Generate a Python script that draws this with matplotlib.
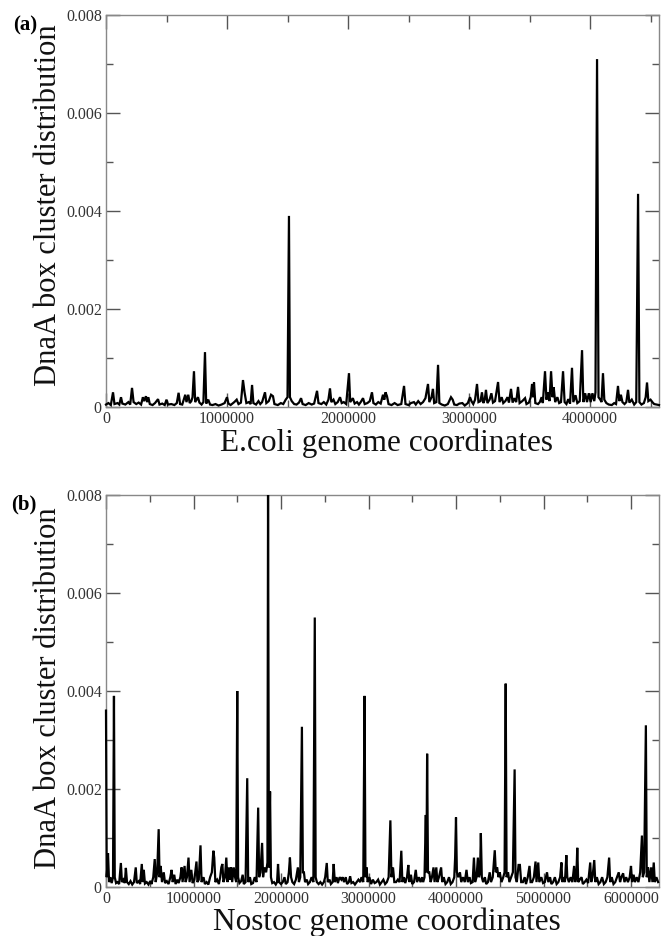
import matplotlib
matplotlib.use("Agg")
import matplotlib.pyplot as plt
from matplotlib.ticker import MultipleLocator
import numpy as np

plt.rcParams['font.family'] = ['Liberation Serif', 'DejaVu Serif']

# ---------------- data (positions in kb, values in units of 1e-4) ----------------
ecoli_kb = [
    0, 20, 40, 58, 70, 95, 110, 124, 135, 160,
    185, 200, 215, 228, 250, 270, 290, 305, 315, 330,
    340, 350, 362, 385, 405, 430, 442, 465, 485, 500,
    512, 540, 565, 585, 600, 612, 630, 655, 665, 680,
    692, 705, 715, 727, 737, 760, 772, 790, 805, 818,
    828, 845, 860, 880, 905, 930, 955, 980, 1000, 1012,
    1030, 1060, 1080, 1095, 1115, 1132, 1145, 1160, 1180, 1195,
    1207, 1218, 1240, 1260, 1275, 1290, 1314, 1325, 1345, 1364,
    1380, 1392, 1420, 1445, 1465, 1485, 1500, 1512, 1520, 1535,
    1555, 1575, 1595, 1612, 1625, 1650, 1675, 1700, 1720, 1744,
    1756, 1780, 1800, 1820, 1838, 1851, 1862, 1880, 1895, 1915,
    1934, 1948, 1965, 1985, 2008, 2018, 2040, 2055, 2075, 2090,
    2105, 2124, 2138, 2160, 2180, 2198, 2210, 2230, 2250, 2270,
    2289, 2300, 2310, 2322, 2335, 2360, 2385, 2410, 2440, 2463,
    2475, 2500, 2520, 2545, 2560, 2580, 2600, 2620, 2640, 2661,
    2672, 2690, 2702, 2712, 2730, 2744, 2755, 2775, 2800, 2825,
    2851, 2865, 2878, 2900, 2920, 2945, 2965, 2990, 3008, 3020,
    3035, 3050, 3066, 3078, 3095, 3107, 3118, 3130, 3140, 3152,
    3170, 3185, 3198, 3215, 3240, 3252, 3270, 3283, 3300, 3318,
    3330, 3347, 3360, 3375, 3390, 3405, 3418, 3440, 3463, 3475,
    3495, 3510, 3521, 3530, 3537, 3548, 3570, 3585, 3600, 3610,
    3628, 3640, 3652, 3665, 3678, 3690, 3700, 3712, 3730, 3745,
    3760, 3777, 3790, 3805, 3820, 3835, 3851, 3862, 3880, 3895,
    3915, 3934, 3945, 3960, 3975, 3990, 4005, 4020, 4035, 4045,
    4058, 4070, 4085, 4095, 4107, 4118, 4135, 4155, 4180, 4200,
    4215, 4231, 4242, 4255, 4268, 4285, 4300, 4314, 4325, 4345,
    4365, 4382, 4397, 4408, 4425, 4445, 4460, 4471, 4482, 4500,
    4515, 4530, 4550, 4570,
]
ecoli_val_e4 = [
    0.5, 0.8, 0.4, 3, 0.6, 0.8, 0.5, 2, 0.7, 0.5,
    1, 0.5, 3.9, 1, 0.6, 0.9, 0.5, 2, 1.2, 2.2,
    1, 2, 0.6, 0.4, 0.8, 1.6, 0.5, 0.7, 0.4, 1.5,
    0.5, 0.6, 0.4, 0.8, 2.9, 0.6, 0.5, 2.5, 1, 2.5,
    0.8, 1.2, 2, 7.3, 1, 2, 0.9, 0.5, 1, 11.2,
    0.7, 1.5, 0.5, 0.4, 0.6, 0.3, 0.5, 0.8, 2, 0.7,
    0.4, 1, 1.5, 0.6, 0.9, 5.5, 3, 0.8, 1, 0.6,
    4.5, 0.8, 0.5, 1.2, 0.6, 1, 3, 0.8, 1.2, 2.5,
    2.2, 0.6, 0.4, 0.8, 0.6, 1.5, 2, 39, 2, 1.2,
    0.6, 0.5, 0.9, 1.8, 0.6, 0.4, 0.8, 0.5, 0.7, 3.3,
    0.8, 0.6, 1, 0.5, 1.5, 3.8, 1, 1.5, 0.6, 1,
    2, 0.8, 1, 0.6, 6.9, 1, 1.8, 0.7, 1, 0.5,
    1, 1.8, 0.6, 0.8, 1.2, 3, 0.8, 0.5, 1, 0.7,
    2.5, 1.5, 3, 2.2, 0.6, 0.4, 0.8, 0.4, 0.6, 4.3,
    0.6, 0.4, 0.8, 1, 0.5, 1.2, 0.6, 1, 1.8, 4.7,
    1, 2, 3.7, 0.8, 1, 8.6, 0.8, 0.5, 0.3, 0.6,
    2, 1.5, 0.5, 0.4, 0.7, 0.8, 0.3, 0.8, 2, 1.2,
    0.6, 1.5, 4.7, 1, 1.2, 3, 0.8, 1.5, 3.5, 0.8,
    1.5, 2.8, 0.9, 1.2, 5.1, 1, 2, 0.8, 1.2, 2,
    0.9, 3.7, 0.9, 1.8, 1, 4.1, 0.8, 1.2, 1.8, 0.6,
    0.9, 2, 4.7, 2, 5, 0.8, 0.6, 1, 2, 0.8,
    7.3, 1.5, 3, 1.2, 7.3, 2, 4, 1, 2, 0.8,
    1, 7.3, 1, 0.6, 1.6, 0.7, 8, 1, 2.4, 0.8,
    1.2, 11.6, 1, 2.8, 1, 2.8, 1, 2.8, 1.2, 3,
    71, 2, 1.5, 1, 6.9, 1.5, 0.8, 0.5, 0.4, 0.8,
    0.6, 4.3, 1.2, 2.5, 1, 0.6, 1, 3.5, 0.9, 1.5,
    0.5, 1, 43.5, 1, 0.5, 0.8, 2, 5, 1.2, 1.5,
    1, 0.6, 0.5, 0.4,
]

nostoc_kb = [
    0, 8, 23, 35, 50, 65, 80, 91, 100, 115,
    130, 150, 170, 182, 200, 215, 227, 240, 260, 280,
    300, 320, 340, 352, 375, 390, 409, 420, 432, 445,
    465, 485, 505, 520, 540, 557, 568, 585, 602, 612,
    625, 640, 660, 675, 695, 715, 735, 750, 762, 780,
    795, 815, 830, 850, 864, 875, 898, 910, 925, 943,
    955, 975, 990, 1010, 1034, 1045, 1060, 1080, 1092, 1115,
    1130, 1150, 1170, 1190, 1210, 1227, 1237, 1250, 1270, 1290,
    1305, 1318, 1330, 1342, 1360, 1375, 1388, 1405, 1418, 1430,
    1442, 1460, 1475, 1488, 1500, 1510, 1525, 1545, 1562, 1575,
    1595, 1614, 1625, 1645, 1660, 1680, 1700, 1720, 1739, 1750,
    1765, 1784, 1795, 1810, 1830, 1845, 1852, 1862, 1875, 1885,
    1900, 1920, 1940, 1955, 1966, 1978, 2000, 2020, 2040, 2055,
    2075, 2090, 2102, 2115, 2130, 2150, 2170, 2193, 2205, 2220,
    2239, 2250, 2262, 2275, 2295, 2310, 2330, 2350, 2370, 2386,
    2396, 2410, 2430, 2450, 2470, 2490, 2505, 2523, 2535, 2555,
    2570, 2590, 2602, 2615, 2635, 2650, 2670, 2690, 2705, 2720,
    2740, 2755, 2775, 2790, 2805, 2825, 2845, 2865, 2885, 2905,
    2920, 2940, 2955, 2965, 2978, 2990, 3010, 3030, 3050, 3070,
    3090, 3110, 3130, 3150, 3170, 3190, 3210, 3230, 3250, 3262,
    3280, 3295, 3315, 3335, 3355, 3375, 3387, 3405, 3420, 3440,
    3455, 3467, 3485, 3500, 3520, 3540, 3555, 3575, 3595, 3612,
    3625, 3640, 3655, 3662, 3670, 3680, 3695, 3710, 3725, 3743,
    3755, 3775, 3787, 3805, 3830, 3842, 3860, 3880, 3900, 3920,
    3940, 3960, 3980, 3990, 4000, 4010, 4025, 4045, 4060, 4080,
    4100, 4120, 4135, 4155, 4170, 4190, 4205, 4218, 4235, 4250,
    4262, 4275, 4284, 4295, 4310, 4330, 4345, 4365, 4385, 4400,
    4420, 4443, 4455, 4470, 4485, 4500, 4520, 4540, 4555, 4568,
    4578, 4595, 4610, 4630, 4650, 4670, 4680, 4695, 4715, 4730,
    4745, 4765, 4785, 4800, 4820, 4840, 4852, 4870, 4890, 4909,
    4920, 4940, 4952, 4975, 4995, 5015, 5040, 5055, 5075, 5090,
    5110, 5130, 5150, 5170, 5190, 5205, 5215, 5230, 5245, 5261,
    5272, 5290, 5310, 5330, 5350, 5362, 5375, 5386, 5397, 5415,
    5435, 5450, 5470, 5490, 5510, 5534, 5545, 5560, 5580, 5592,
    5610, 5630, 5650, 5670, 5690, 5710, 5730, 5750, 5762, 5780,
    5800, 5820, 5840, 5860, 5875, 5890, 5910, 5925, 5945, 5965,
    5985, 6000, 6012, 6030, 6045, 6065, 6085, 6105, 6125, 6135,
    6150, 6170, 6180, 6195, 6210, 6230, 6245, 6260, 6272, 6290,
    6310,
]
nostoc_val_e4 = [
    36, 2, 6.9, 1, 2, 0.8, 2, 39, 2, 0.8,
    1, 0.6, 4.9, 1, 1.5, 0.8, 3.9, 1, 0.6, 1.2,
    0.5, 1, 4, 0.8, 1.2, 0.6, 4.7, 1, 3.5, 0.7,
    1, 0.5, 1.2, 0.6, 2, 5.7, 1, 3, 11.8, 2,
    4.3, 1, 3, 0.8, 1.2, 0.6, 2, 3.5, 1, 2.5,
    0.6, 1.5, 0.8, 2, 4, 1, 4.3, 1, 2, 6,
    1, 3.5, 0.8, 1.5, 5.2, 1, 1.5, 8.5, 1, 2,
    0.6, 1, 0.5, 2, 3, 7.4, 6, 1, 1.5, 0.6,
    2, 4, 4.7, 1, 2, 6, 1, 4, 1.5, 4,
    1, 4, 2, 1, 40, 2, 0.8, 1.2, 2.5, 0.6,
    1, 22.2, 1, 2, 0.6, 0.8, 2, 1, 16.2, 2,
    3, 9, 2, 4, 3, 5, 85, 4, 19.5, 2,
    0.8, 1, 0.5, 1, 4.7, 1, 0.6, 1, 2, 0.6,
    1, 3, 6, 2, 1, 0.6, 1.5, 4, 1, 2,
    32.7, 3, 3, 1, 1.5, 0.6, 1, 2, 1, 55,
    2, 1, 0.6, 1, 0.5, 1, 2, 4.9, 1, 1.5,
    0.6, 1, 4.7, 1, 2, 0.8, 2, 1.5, 2, 1,
    2, 0.6, 1, 2.2, 0.8, 1, 0.5, 1, 1.5, 1,
    2, 1, 39, 2, 4, 1, 2, 0.6, 1.5, 0.8,
    1, 1.5, 0.5, 1, 1.5, 0.6, 1, 2, 13.6, 2,
    4, 1, 1, 1.5, 1, 7.4, 1, 2, 0.8, 2,
    4.5, 1, 2.5, 0.6, 1, 3.5, 1, 2, 1, 2,
    1, 2, 14.7, 3, 27.2, 3, 3, 1, 2, 4,
    1, 4, 1, 2, 4, 1, 2, 0.6, 1, 2,
    0.6, 1, 2, 6, 14.2, 3, 2, 3, 1, 2,
    1, 3.5, 1, 2, 0.8, 1, 6, 1, 2, 6,
    2, 3, 11, 2, 1, 2, 0.6, 1, 3, 1,
    2, 7.5, 3, 4, 2, 3, 1, 2, 3, 41.5,
    2, 3, 1, 2, 3, 24, 2, 1, 4.5, 4.5,
    1, 1, 2, 0.6, 2, 4.3, 1, 1, 2, 5.2,
    1, 5, 1, 2, 0.8, 1, 3, 1, 2, 0.6,
    1, 2, 0.6, 1, 2, 5, 1, 2, 1, 6.5,
    2, 1, 2, 1, 4.3, 1, 2, 8, 1, 1.5,
    2, 0.6, 1, 1.5, 0.8, 5, 1, 2, 5.5, 1,
    2, 0.6, 1, 2, 0.6, 1, 2, 6, 1, 2,
    0.6, 1, 2, 3, 1, 2, 2.8, 1, 2, 1,
    2, 4.3, 1, 2.5, 1, 2, 1, 3, 10.5, 2,
    3, 33, 2, 4, 1, 4, 1, 5, 1, 2,
    1,
]

panel_letters = ["(a)", "(b)"]
xlabels = ["E.coli genome coordinates", "Nostoc genome coordinates"]
ylabel = "DnaA box cluster distribution"
xlims = [4.57e6, 6.32e6]

assert len(ecoli_kb) == len(ecoli_val_e4)
assert len(nostoc_kb) == len(nostoc_val_e4)

W, H = 661, 936
fig = plt.figure(figsize=(W / 100, H / 100), dpi=100)

def fx(px):
    return px / W

def fy(py):
    return 1 - py / H

axes_px = [(106, 15, 659, 407), (106, 495, 659, 887)]
series = [(ecoli_kb, ecoli_val_e4), (nostoc_kb, nostoc_val_e4)]

for i, ((l, t, r, b), (xs, vs)) in enumerate(zip(axes_px, series)):
    ax = fig.add_axes([fx(l), fy(b), fx(r) - fx(l), fy(t) - fy(b)])
    x = np.array(xs, dtype=float) * 1000.0
    y = np.array(vs, dtype=float) * 1e-4
    ax.set_xlim(0, xlims[i])
    ax.set_ylim(0, 0.008)
    line, = ax.plot(x, np.minimum(y, 0.008), color='black', lw=1.6,
                    solid_joinstyle='miter', zorder=3)
    line.set_clip_on(False)
    ax.xaxis.set_major_locator(MultipleLocator(1000000))
    ax.xaxis.set_minor_locator(MultipleLocator(500000))
    ax.yaxis.set_major_locator(MultipleLocator(0.002))
    ax.yaxis.set_minor_locator(MultipleLocator(0.001))
    ax.xaxis.set_major_formatter(matplotlib.ticker.FuncFormatter(lambda v, p: "%d" % round(v)))
    ax.yaxis.set_major_formatter(matplotlib.ticker.FuncFormatter(lambda v, p: "0" if v == 0 else "%.3f" % v))
    ax.tick_params(which='both', direction='in', top=True, right=True,
                   color='#555555', width=1.0, labelsize=11.5, labelcolor='#333333')
    ax.tick_params(which='major', length=10, pad=3)
    ax.tick_params(which='minor', length=5)
    for s in ax.spines.values():
        s.set_color('#888888')
        s.set_linewidth(1.0)

# y labels
fig.text(fx(49), fy(205), ylabel, rotation=90, ha='center', va='center', fontsize=22, color='#111111')
fig.text(fx(49), fy(688), ylabel, rotation=90, ha='center', va='center', fontsize=22, color='#111111')
# x labels
fig.text(fx(387), fy(451), xlabels[0], ha='center', va='baseline', fontsize=22.5, color='#111111')
fig.text(fx(387), fy(930), xlabels[1], ha='center', va='baseline', fontsize=22.5, color='#111111')
# panel letters
fig.text(fx(25), fy(25), panel_letters[0], ha='center', va='center', fontsize=15, fontweight='bold')
fig.text(fx(24), fy(504), panel_letters[1], ha='center', va='center', fontsize=15, fontweight='bold')

fig.savefig("out.png", dpi=100)
